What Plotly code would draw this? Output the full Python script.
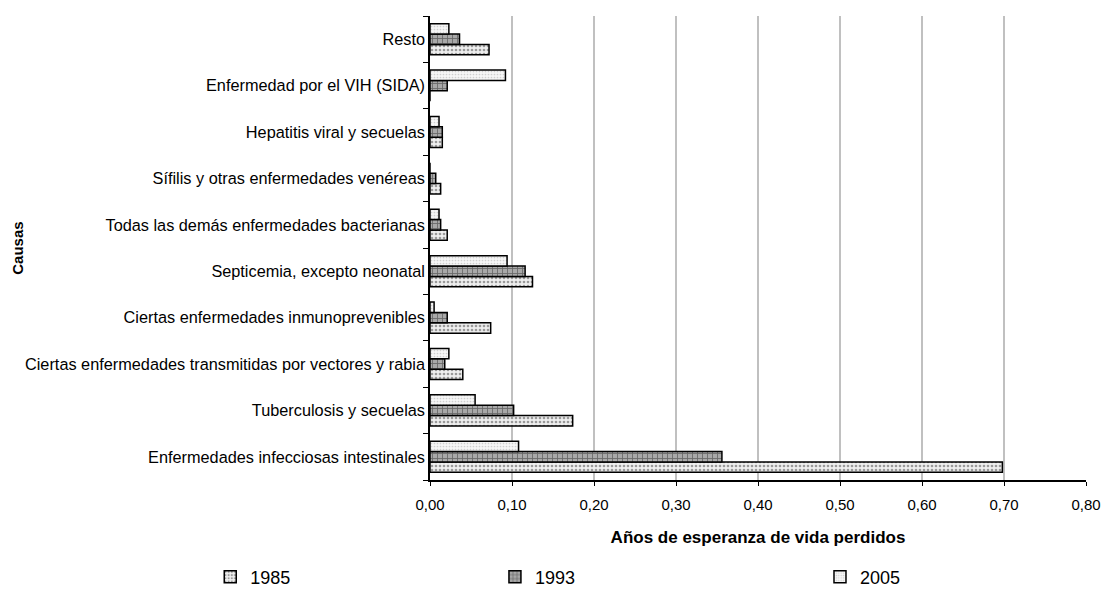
import plotly.graph_objects as go

categories = [
    "Enfermedades infecciosas intestinales",
    "Tuberculosis y secuelas",
    "Ciertas enfermedades transmitidas por vectores y rabia",
    "Ciertas enfermedades inmunoprevenibles",
    "Septicemia, excepto neonatal",
    "Todas las demás enfermedades bacterianas",
    "Sífilis y otras enfermedades venéreas",
    "Hepatitis viral y secuelas",
    "Enfermedad por el VIH (SIDA)",
    "Resto",
]
v1985 = [0.698, 0.174, 0.040, 0.074, 0.125, 0.021, 0.013, 0.015, 0.0, 0.072]
v1993 = [0.356, 0.102, 0.018, 0.021, 0.116, 0.013, 0.007, 0.015, 0.021, 0.036]
v2005 = [0.108, 0.055, 0.023, 0.005, 0.094, 0.011, 0.0, 0.011, 0.092, 0.023]
years = ["1985", "1993", "2005"]
x_ticks = [0, 0.1, 0.2, 0.3, 0.4, 0.5, 0.6, 0.7, 0.8]
x_tick_text = ["0,00", "0,10", "0,20", "0,30", "0,40", "0,50", "0,60", "0,70", "0,80"]

styles = {
    "1985": dict(bgcolor="#efefef", fgcolor="#9a9a9a", shape=".", size=4, solidity=0.35),
    "1993": dict(bgcolor="#a8a8a8", fgcolor="#666666", shape="+", size=5, solidity=0.3),
    "2005": dict(bgcolor="#f6f6f6", fgcolor="#cfcfcf", shape=".", size=3, solidity=0.25),
}
legend_ids = {"1985": "legend", "1993": "legend2", "2005": "legend3"}

fig = go.Figure()
for yr, vals in zip(years, [v1985, v1993, v2005]):
    st = styles[yr]
    fig.add_trace(go.Bar(
        name=yr, y=categories, x=vals, orientation="h", legend=legend_ids[yr],
        showlegend=True,
        marker=dict(
            color=st["bgcolor"],
            line=dict(color="#000000", width=1.5),
            pattern=dict(shape=st["shape"], fgcolor=st["fgcolor"], bgcolor=st["bgcolor"],
                         size=st["size"], solidity=st["solidity"], fillmode="replace"),
        ),
    ))

font = "Arial, Liberation Sans, sans-serif"
leg_common = dict(orientation="h", yanchor="middle", y=-0.209, xanchor="left",
                  font=dict(size=18, family=font), bgcolor="rgba(0,0,0,0)", visible=True)
fig.update_layout(
    width=1104, height=599,
    showlegend=True,
    barmode="group", bargap=0.33, bargroupgap=0.0,
    plot_bgcolor="white", paper_bgcolor="white",
    margin=dict(l=430, r=18, t=16, b=119, autoexpand=False),
    font=dict(family=font, size=16.3, color="#000000"),
    legend=dict(x=-0.335, **leg_common),
    legend2=dict(x=0.099, **leg_common),
    legend3=dict(x=0.5945, **leg_common),
    xaxis=dict(
        range=[0, 0.8], tickvals=x_ticks, ticktext=x_tick_text,
        showgrid=True, gridcolor="#c0c0c0", gridwidth=2,
        showline=True, linecolor="#000000", linewidth=1.5,
        ticks="outside", ticklen=4, tickcolor="#000000",
        zeroline=False, automargin=False, ticklabelstandoff=6,
        title=dict(text="<b>Años de esperanza de vida perdidos</b>", font=dict(size=17), standoff=19),
        tickfont=dict(size=15),
    ),
    yaxis=dict(
        showline=True, linecolor="#000000", linewidth=1.5,
        ticks="outside", ticklen=5, tickcolor="#000000", tickson="boundaries",
        showgrid=False, automargin=False,
        tickfont=dict(size=16.3),
    ),
)
fig.add_annotation(text="<b>Causas</b>", xref="paper", yref="paper", x=-0.646, y=0.5,
                   showarrow=False, textangle=-90, font=dict(size=15))
fig.write_html(
    "out.html",
    config={"displayModeBar": False},
    post_script="document.body.style.margin='0';document.body.style.overflow='hidden';"
                "document.documentElement.style.overflow='hidden';",
)
